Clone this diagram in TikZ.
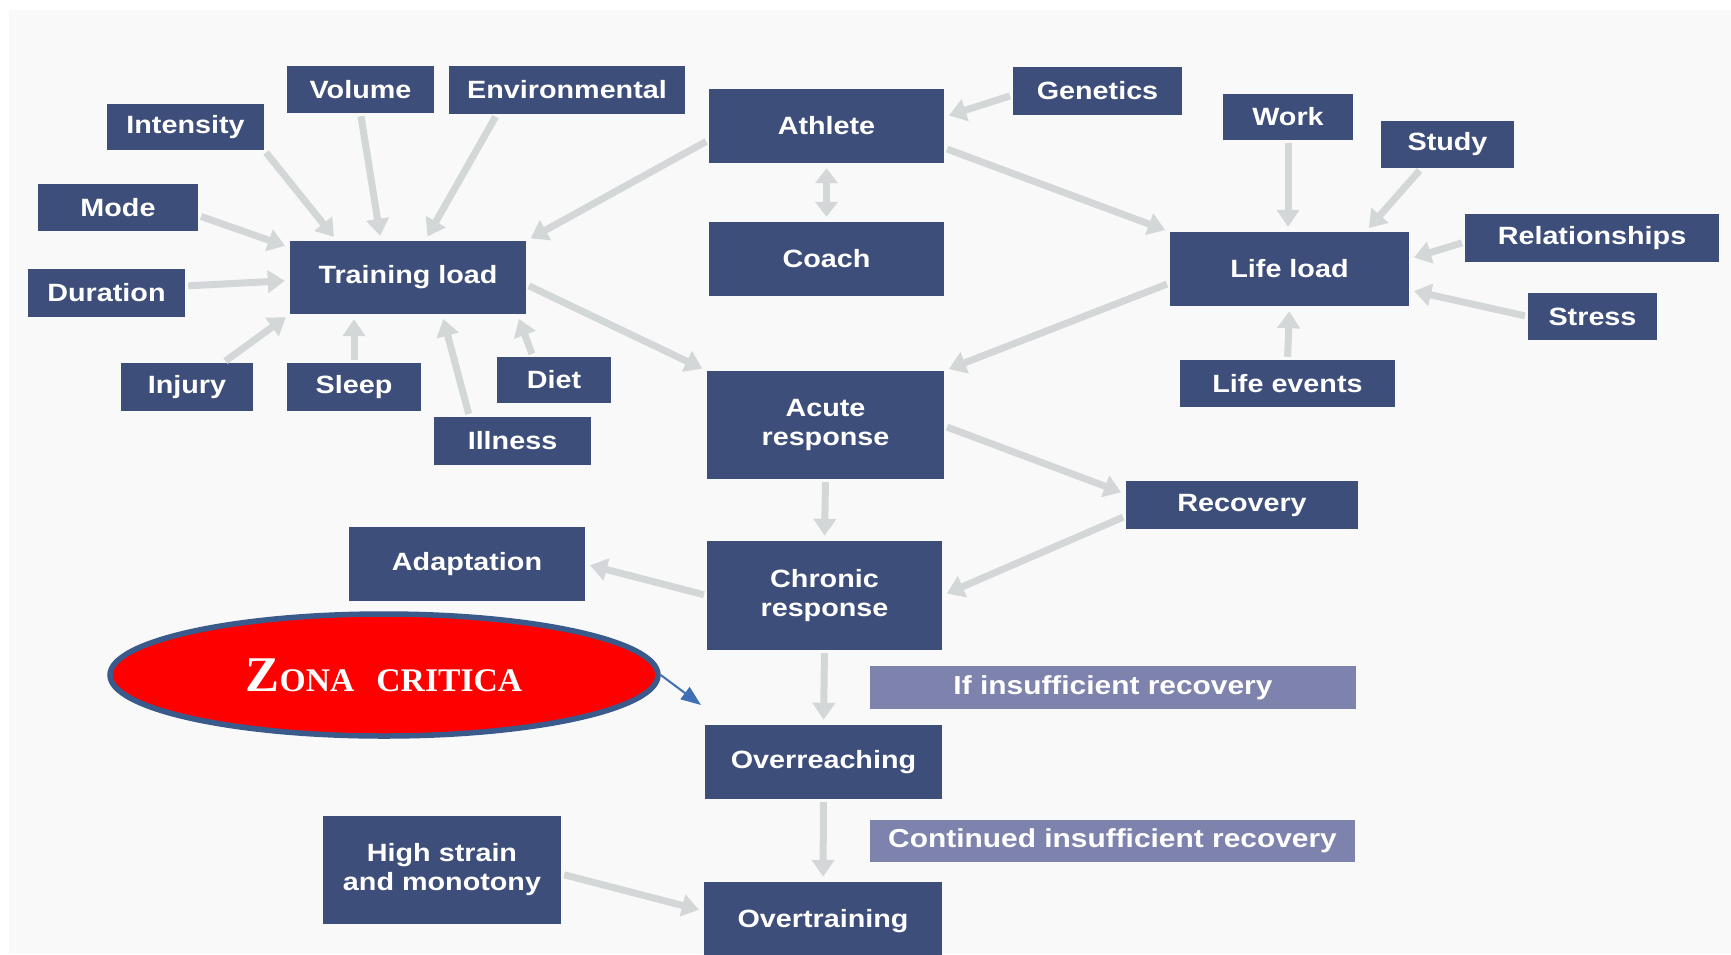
\documentclass[tikz,border=0pt]{standalone}
\usepackage{fontspec}
\setmainfont{Liberation Sans}[FakeStretch=1.15]
\newfontfamily\zonafont{Liberation Serif}[FakeStretch=1.02]
\usetikzlibrary{arrows.meta,calc,shapes.geometric}
\definecolor{boxnavy}{RGB}{62,78,122}
\definecolor{notelilac}{RGB}{125,131,172}
\definecolor{arrowgray}{RGB}{212,215,215}
\definecolor{panelgray}{RGB}{249,249,249}
\definecolor{zonared}{RGB}{255,0,0}
\definecolor{zonarim}{RGB}{59,90,140}
\definecolor{pointerblue}{RGB}{63,112,181}
\begin{document}
\begin{tikzpicture}[x=1pt,y=-1pt,
  box/.style={fill=boxnavy, text=white, inner sep=0pt, align=center,
    font=\fontsize{25}{29}\selectfont\bfseries},
  note/.style={fill=notelilac, text=white, inner sep=0pt, align=center,
    font=\fontsize{26}{30}\selectfont\bfseries},
  flow/.style={draw=arrowgray, line width=7pt,
    -{Triangle[length=17pt,width=22pt]}, shorten <=3pt, shorten >=5pt},
  twoway/.style={draw=arrowgray, line width=7pt,
    {Triangle[length=15pt,width=22pt]}-{Triangle[length=15pt,width=22pt]},
    shorten <=5pt, shorten >=5pt},
  zona/.style={ellipse, fill=zonared, draw=zonarim, line width=5.5pt,
    minimum width=548pt, minimum height=122pt, inner sep=0pt},
  pointer/.style={draw=pointerblue, line width=2pt,
    -{Triangle[length=20pt,width=15pt]}}]

\clip (0,0) rectangle (1731,954);
\fill[white] (0,0) rectangle (1731,954);
\fill[panelgray] (9,10) rectangle (1731,954);

% training load and its inputs
\node[box, minimum width=147pt, minimum height=47pt] (volume) at (360.5,89.5) {Volume};
\node[box, minimum width=236pt, minimum height=48pt] (environmental) at (567,90) {Environmental};
\node[box, minimum width=157pt, minimum height=46pt] (intensity) at (185.5,127) {Intensity};
\node[box, minimum width=160pt, minimum height=47pt] (mode) at (118,207.5) {Mode};
\node[box, minimum width=157pt, minimum height=48pt] (duration) at (106.5,293) {Duration};
\node[box, minimum width=236pt, minimum height=73pt] (training) at (408,277.5) {Training load};
\node[box, minimum width=132pt, minimum height=48pt] (injury) at (187,387) {Injury};
\node[box, minimum width=134pt, minimum height=48pt] (sleep) at (354,387) {Sleep};
\node[box, minimum width=114pt, minimum height=46pt] (diet) at (554,380) {Diet};
\node[box, minimum width=157pt, minimum height=48pt] (illness) at (512.5,441) {Illness};

% athlete and coach
\node[box, minimum width=235pt, minimum height=74pt] (athlete) at (826.5,126) {Athlete};
\node[box, minimum width=235pt, minimum height=74pt] (coach) at (826.5,259) {Coach};
\node[box, minimum width=169pt, minimum height=48pt] (genetics) at (1097.5,91) {Genetics};

% life load and its inputs
\node[box, minimum width=130pt, minimum height=46pt] (work) at (1288,117) {Work};
\node[box, minimum width=133pt, minimum height=47pt] (study) at (1447.5,144.5) {Study};
\node[box, minimum width=254pt, minimum height=48pt] (relationships) at (1592,238) {Relationships};
\node[box, minimum width=239pt, minimum height=74pt] (lifeload) at (1289.5,269) {Life load};
\node[box, minimum width=129pt, minimum height=47pt] (stress) at (1592.5,316.5) {Stress};
\node[box, minimum width=215pt, minimum height=47pt] (lifeevents) at (1287.5,383.5) {Life events};

% responses
\node[box, minimum width=237pt, minimum height=108pt] (acute) at (825.5,425) {Acute\\response};
\node[box, minimum width=232pt, minimum height=48pt] (recovery) at (1242,505) {Recovery};
\node[box, minimum width=236pt, minimum height=74pt] (adaptation) at (467,564) {Adaptation};
\node[box, minimum width=235pt, minimum height=109pt] (chronic) at (824.5,595.5) {Chronic\\response};
\node[note, minimum width=486pt, minimum height=43pt] (ifinsufficient) at (1113,687.5) {If insufficient recovery};
\node[box, minimum width=237pt, minimum height=74pt] (overreaching) at (823.5,762) {Overreaching};
\node[note, minimum width=485pt, minimum height=42pt] (continued) at (1112.5,841) {Continued insufficient recovery};
\node[box, minimum width=238pt, minimum height=108pt] (highstrain) at (442,870) {High strain\\and monotony};
\node[box, minimum width=238pt, minimum height=78pt] (overtraining) at (823,921) {Overtraining};

% connectors into training load
\draw[flow] (intensity.south east) -- ($(training.north)+(-71,0)$);
\draw[flow] (volume.south) -- ($(training.north)+(-27,0)$);
\draw[flow] ($(environmental.south)+(-70,0)$) -- ($(training.north)+(17,0)$);
\draw[flow] ($(athlete.west)+(0,14)$) -- (training.north east);
\draw[flow] ($(mode.east)+(0,8)$) -- ($(training.west)+(0,-30)$);
\draw[flow] ($(duration.east)+(0,-7)$) -- ($(training.west)+(0,3)$);
\draw[flow] ($(injury.north)+(36,0)$) -- (training.south west);
\draw[flow] (sleep.north) -- ($(training.south)+(-54,0)$);
\draw[flow] ($(illness.north)+(-43,0)$) -- ($(training.south)+(34,0)$);
\draw[flow] ($(diet.north)+(-21,0)$) -- ($(training.south east)+(-9,0)$);
\draw[flow] ($(training.east)+(0,7)$) -- (acute.north west);

% connectors around the athlete
\draw[flow] ($(genetics.west)+(0,4)$) -- ($(athlete.east)+(0,-9)$);
\draw[twoway] (athlete.south) -- (coach.north);
\draw[flow] ($(athlete.east)+(0,22)$) -- (lifeload.north west);

% connectors into life load
\draw[flow] (work.south) -- ($(lifeload.north)+(-1.5,0)$);
\draw[flow] ($(study.south)+(-26,0)$) -- ($(lifeload.north)+(76,0)$);
\draw[flow] ($(relationships.west)+(0,4)$) -- ($(lifeload.east)+(0,-10)$);
\draw[flow] (stress.west) -- ($(lifeload.east)+(0,21)$);
\draw[flow] (lifeevents.north) -- (lifeload.south);
\draw[flow] ($(lifeload.west)+(0,14)$) -- (acute.north east);

% response chain
\draw[flow] ($(acute.east)+(0,1)$) -- ($(recovery.west)+(0,-11)$);
\draw[flow] ($(recovery.west)+(0,11)$) -- (chronic.east);
\draw[flow] (acute.south) -- (chronic.north);
\draw[flow] (chronic.west) -- (adaptation.east);
\draw[flow] (chronic.south) -- (overreaching.north);
\draw[flow] (overreaching.south) -- (overtraining.north);
\draw[flow] ($(highstrain.east)+(0,4)$) -- ($(overtraining.west)+(0,-10)$);

% critical zone callout
\node[zona] (zona) at (384,675) {\zonafont\bfseries\color{white}%
  {\fontsize{50}{50}\selectfont Z}{\fontsize{33}{33}\selectfont ONA}\hspace{22pt}{\fontsize{33}{33}\selectfont CRITICA}};
\coordinate (zonatip) at (701,705);
\draw[pointer] (zona.east) -- (zonatip);

\end{tikzpicture}
\end{document}
